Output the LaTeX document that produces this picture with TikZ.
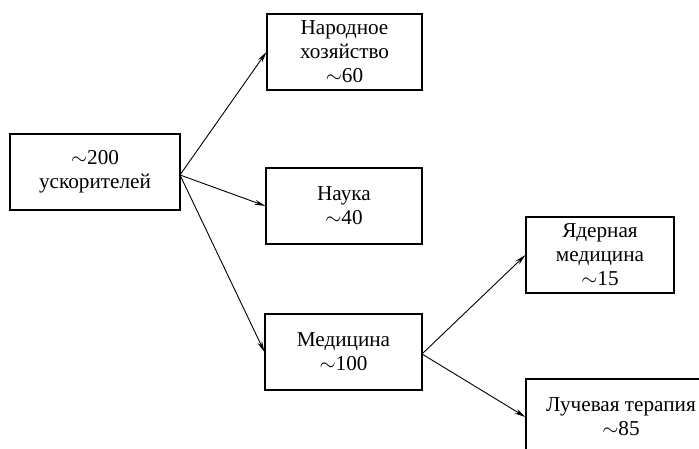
\documentclass[tikz,border=0pt]{standalone}
\usepackage{fontspec}
\setmainfont{Liberation Serif}
\usetikzlibrary{arrows.meta}
\begin{document}
\begin{tikzpicture}[x=1pt,y=1pt,
  box/.style={draw=black, line width=1.1pt, align=center, inner sep=0pt,
    minimum height=76pt, font=\fontsize{21.2}{24}\selectfont},
  arr/.style={line width=0.9pt, -{Stealth[length=11pt,width=5pt]}}]
\path[use as bounding box] (0,0) rectangle (699,449);
\clip (0,0) rectangle (699,449);
\node[box, minimum width=170pt] (src) at (95,277) {$\sim$200\\ускорителей};
\node[box, minimum width=155pt] (top) at (344.5,397) {Народное\\хозяйство\\$\sim$60};
\node[box, minimum width=156pt] (mid) at (344,243) {Наука\\$\sim$40};
\node[box, minimum width=157pt] (med) at (343.5,97) {Медицина\\$\sim$100};
\node[box, minimum width=148pt] (nuc) at (600,194) {Ядерная\\медицина\\$\sim$15};
\node[box, minimum width=190pt] (rad) at (621,32) {Лучевая терапия\\$\sim$85};
\coordinate (s) at (180,274);
\coordinate (m) at (422,95);
\draw[arr] (s) -- (top.west);
\draw[arr] (s) -- (mid.west);
\draw[arr] (s) -- (med.west);
\draw[arr] (m) -- (nuc.west);
\draw[arr] (m) -- (rad.west);
\end{tikzpicture}
\end{document}
